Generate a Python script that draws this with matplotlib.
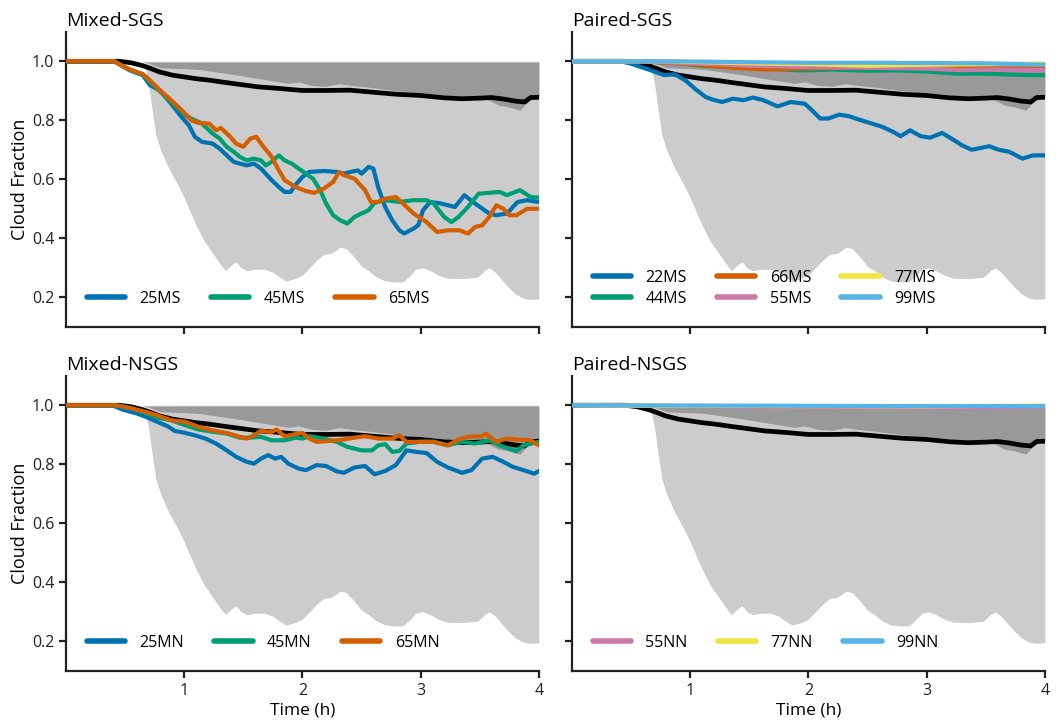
import matplotlib
matplotlib.use("Agg")
import matplotlib.pyplot as plt

plt.rcParams['font.family'] = ['Open Sans', 'DejaVu Sans']

# ensemble envelope (light gray lower bound, upper is 1.0)
t_env = [0, 0.66, 0.70, 0.73, 0.76, 0.80, 0.86, 0.92, 0.98, 1.04,
         1.10, 1.17, 1.24, 1.30, 1.35, 1.40, 1.44, 1.48, 1.53, 1.60,
         1.68, 1.75, 1.80, 1.86, 1.93, 2.00, 2.06, 2.12, 2.18, 2.25,
         2.32, 2.37, 2.43, 2.50, 2.56, 2.62, 2.70, 2.78, 2.85, 2.90,
         2.96, 3.02, 3.08, 3.15, 3.22, 3.35, 3.48, 3.54, 3.58, 3.63,
         3.68, 3.74, 3.80, 3.86, 3.92, 4.0]
env_lo = [1.0, 1.0, 0.92, 0.83, 0.75, 0.70, 0.645, 0.60, 0.555, 0.50,
          0.445, 0.39, 0.35, 0.315, 0.29, 0.31, 0.32, 0.30, 0.29, 0.295,
          0.295, 0.285, 0.27, 0.255, 0.262, 0.275, 0.30, 0.325, 0.345, 0.35,
          0.37, 0.365, 0.34, 0.305, 0.29, 0.27, 0.255, 0.252, 0.252, 0.27,
          0.295, 0.30, 0.29, 0.275, 0.265, 0.263, 0.268, 0.29, 0.30, 0.285,
          0.262, 0.235, 0.212, 0.198, 0.193, 0.195]

# inner (dark gray) band
t_dark = [0.66, 0.72, 0.80, 0.90, 1.00, 1.13, 1.30, 1.47, 1.65, 1.88,
          1.97, 2.08, 2.20, 2.31, 2.42, 2.54, 2.70, 2.87, 3.10, 3.32,
          3.55, 3.66, 3.75, 3.84, 3.91, 4.0]
dark_lo = [1.0, 0.99, 0.978, 0.976, 0.975, 0.972, 0.962, 0.952, 0.94, 0.925,
           0.93, 0.918, 0.915, 0.924, 0.918, 0.913, 0.905, 0.896, 0.89, 0.879,
           0.873, 0.851, 0.845, 0.834, 0.866, 0.879]

# ensemble mean (black)
t_mean = [0, 0.45, 0.55, 0.65, 0.72, 0.79, 0.90, 1.0, 1.1, 1.21,
          1.35, 1.5, 1.63, 1.8, 1.91, 2.0, 2.2, 2.4, 2.6, 2.8,
          3.0, 3.2, 3.35, 3.5, 3.6, 3.7, 3.8, 3.88, 3.93, 4.0]
cf_mean = [1.0, 1.0, 0.995, 0.985, 0.975, 0.964, 0.953, 0.947, 0.941, 0.936,
           0.928, 0.92, 0.913, 0.908, 0.904, 0.901, 0.901, 0.902, 0.895, 0.888,
           0.884, 0.876, 0.873, 0.875, 0.877, 0.872, 0.865, 0.862, 0.877, 0.878]

# Mixed-SGS
t_25ms = [0, 0.41, 0.45, 0.54, 0.65, 0.71, 0.80, 0.89, 0.98, 1.04, 1.09, 1.15, 1.24, 1.30,
          1.36, 1.42, 1.47, 1.53, 1.59, 1.65, 1.74, 1.80, 1.85, 1.90, 1.94, 2.0, 2.06,
          2.18, 2.29, 2.35, 2.41, 2.47, 2.50, 2.56, 2.60, 2.64, 2.70, 2.76, 2.82, 2.86,
          2.94, 2.98, 3.02, 3.08, 3.17, 3.29, 3.37, 3.46, 3.58, 3.64, 3.73, 3.82, 3.90, 4.0]
cf_25ms = [1.0, 1.0, 0.99, 0.969, 0.953, 0.919, 0.90, 0.856, 0.81, 0.783, 0.744, 0.727, 0.721, 0.704,
           0.681, 0.659, 0.653, 0.647, 0.653, 0.636, 0.597, 0.574, 0.557, 0.557, 0.58, 0.608, 0.625,
           0.628, 0.625, 0.619, 0.625, 0.63, 0.619, 0.642, 0.636, 0.574, 0.506, 0.461, 0.427, 0.416,
           0.433, 0.444, 0.495, 0.523, 0.518, 0.506, 0.546, 0.518, 0.484, 0.478, 0.484, 0.523, 0.529, 0.523]
t_45ms = [0, 0.41, 0.45, 0.54, 0.65, 0.71, 0.80, 0.89, 1.01, 1.06, 1.15, 1.24, 1.30, 1.36, 1.42,
          1.47, 1.53, 1.59, 1.65, 1.69, 1.74, 1.80, 1.85, 1.91, 1.97, 2.03, 2.09, 2.15, 2.20,
          2.26, 2.32, 2.38, 2.44, 2.50, 2.56, 2.61, 2.70, 2.82, 2.94, 3.05, 3.11, 3.20, 3.26,
          3.32, 3.40, 3.49, 3.58, 3.67, 3.73, 3.84, 3.93, 4.0]
cf_45ms = [1.0, 1.0, 0.99, 0.972, 0.955, 0.93, 0.896, 0.862, 0.817, 0.806, 0.789, 0.755, 0.738, 0.71, 0.693,
           0.676, 0.664, 0.67, 0.664, 0.647, 0.659, 0.681, 0.664, 0.653, 0.636, 0.619, 0.602, 0.563, 0.518,
           0.478, 0.461, 0.45, 0.472, 0.484, 0.495, 0.52, 0.529, 0.523, 0.529, 0.529, 0.518, 0.472, 0.455,
           0.472, 0.506, 0.551, 0.554, 0.557, 0.546, 0.563, 0.54, 0.538]
t_65ms = [0, 0.41, 0.45, 0.54, 0.65, 0.71, 0.80, 0.89, 0.98, 1.06, 1.12, 1.21, 1.27, 1.31, 1.39,
          1.44, 1.50, 1.56, 1.61, 1.65, 1.74, 1.80, 1.85, 1.94, 2.03, 2.10, 2.18, 2.26, 2.31,
          2.35, 2.44, 2.53, 2.58, 2.64, 2.70, 2.79, 2.85, 2.94, 3.05, 3.14, 3.23, 3.33, 3.40,
          3.46, 3.52, 3.58, 3.64, 3.70, 3.75, 3.81, 3.90, 4.0]
cf_65ms = [1.0, 1.0, 0.99, 0.972, 0.957, 0.935, 0.90, 0.868, 0.834, 0.80, 0.791, 0.789, 0.766, 0.774, 0.744,
           0.721, 0.71, 0.738, 0.744, 0.721, 0.676, 0.631, 0.597, 0.574, 0.56, 0.554, 0.568, 0.591, 0.625,
           0.614, 0.602, 0.563, 0.523, 0.523, 0.534, 0.54, 0.518, 0.484, 0.455, 0.421, 0.427, 0.427, 0.416,
           0.438, 0.444, 0.472, 0.512, 0.50, 0.478, 0.478, 0.50, 0.50]

# Paired-SGS
t_22ms = [0, 0.41, 0.50, 0.58, 0.67, 0.78, 0.87, 0.96, 1.04, 1.13, 1.19, 1.27, 1.36, 1.45, 1.53,
          1.62, 1.74, 1.85, 1.97, 2.03, 2.10, 2.17, 2.26, 2.34, 2.43, 2.52, 2.63, 2.72, 2.78,
          2.86, 2.95, 3.03, 3.13, 3.21, 3.30, 3.38, 3.53, 3.61, 3.70, 3.81, 3.90, 4.0]
cf_22ms = [1.0, 1.0, 0.992, 0.981, 0.969, 0.953, 0.956, 0.935, 0.907, 0.879, 0.87, 0.862, 0.873, 0.868, 0.877,
           0.868, 0.847, 0.862, 0.856, 0.834, 0.806, 0.806, 0.819, 0.814, 0.802, 0.791, 0.777, 0.76, 0.746,
           0.766, 0.746, 0.741, 0.757, 0.738, 0.715, 0.70, 0.712, 0.70, 0.693, 0.67, 0.681, 0.681]
t_44ms = [0, 0.6, 0.9, 1.1, 1.36, 1.65, 1.94, 2.2, 2.5, 2.76, 3.0, 3.27, 3.5, 3.7, 3.89, 4.0]
cf_44ms = [1.0, 1.0, 0.993, 0.985, 0.98, 0.975, 0.969, 0.972, 0.968, 0.969, 0.965, 0.958, 0.958, 0.955, 0.953, 0.953]
t_66ms = [0, 0.6, 1.0, 1.36, 1.65, 1.94, 2.3, 2.7, 3.0, 3.4, 3.8, 4.0]
cf_66ms = [1.0, 1.0, 0.99, 0.978, 0.972, 0.975, 0.978, 0.98, 0.978, 0.976, 0.975, 0.975]
t_55ms = [0, 0.6, 1.0, 1.5, 2.0, 2.5, 3.0, 3.3, 3.6, 3.9, 4.0]
cf_55ms = [1.0, 1.0, 0.993, 0.985, 0.98, 0.978, 0.975, 0.97, 0.972, 0.97, 0.97]
t_77ms = [0, 0.8, 1.5, 2.0, 2.5, 3.0, 3.5, 4.0]
cf_77ms = [1.0, 1.0, 0.993, 0.99, 0.985, 0.988, 0.99, 0.992]
t_99ms = [0, 0.8, 1.5, 2.0, 2.5, 3.0, 3.5, 3.8, 4.0]
cf_99ms = [1.0, 1.0, 0.997, 0.995, 0.995, 0.994, 0.993, 0.99, 0.988]

# Mixed-NSGS
t_25mn = [0, 0.39, 0.48, 0.60, 0.68, 0.77, 0.86, 0.92, 1.01, 1.09, 1.18, 1.27, 1.36, 1.44, 1.53,
          1.59, 1.65, 1.71, 1.77, 1.82, 1.88, 1.97, 2.03, 2.12, 2.20, 2.29, 2.35, 2.44, 2.53,
          2.61, 2.70, 2.79, 2.88, 2.96, 3.05, 3.14, 3.23, 3.35, 3.43, 3.52, 3.61, 3.70, 3.78,
          3.87, 3.96, 4.0]
cf_25mn = [1.0, 1.0, 0.985, 0.972, 0.96, 0.944, 0.929, 0.913, 0.906, 0.898, 0.887, 0.87, 0.847, 0.825, 0.808,
           0.802, 0.819, 0.831, 0.819, 0.825, 0.802, 0.785, 0.78, 0.797, 0.794, 0.776, 0.771, 0.789, 0.794,
           0.766, 0.777, 0.797, 0.847, 0.842, 0.838, 0.808, 0.789, 0.771, 0.78, 0.819, 0.825, 0.808, 0.791,
           0.78, 0.768, 0.777]
t_45mn = [0, 0.42, 0.55, 0.68, 0.77, 0.89, 1.01, 1.12, 1.24, 1.36, 1.47, 1.56, 1.65, 1.74, 1.85,
          1.94, 2.0, 2.06, 2.18, 2.29, 2.38, 2.50, 2.59, 2.64, 2.70, 2.76, 2.82, 2.88, 2.99,
          3.11, 3.23, 3.35, 3.46, 3.58, 3.70, 3.81, 3.87, 4.0]
cf_45mn = [1.0, 1.0, 0.99, 0.972, 0.958, 0.949, 0.932, 0.918, 0.91, 0.904, 0.89, 0.89, 0.893, 0.881, 0.881,
           0.89, 0.887, 0.895, 0.887, 0.876, 0.859, 0.847, 0.847, 0.864, 0.868, 0.842, 0.845, 0.87, 0.876,
           0.876, 0.864, 0.876, 0.87, 0.881, 0.859, 0.844, 0.864, 0.876]
t_65mn = [0, 0.42, 0.55, 0.68, 0.77, 0.89, 1.01, 1.12, 1.24, 1.36, 1.47, 1.53, 1.59, 1.65, 1.74,
          1.78, 1.85, 1.94, 2.0, 2.06, 2.12, 2.23, 2.35, 2.44, 2.53, 2.64, 2.76, 2.82, 2.88,
          2.99, 3.11, 3.23, 3.32, 3.40, 3.52, 3.55, 3.64, 3.73, 3.81, 3.93, 4.0]
cf_65mn = [1.0, 1.0, 0.99, 0.977, 0.966, 0.949, 0.944, 0.927, 0.915, 0.906, 0.893, 0.887, 0.898, 0.913, 0.909,
           0.918, 0.895, 0.902, 0.906, 0.887, 0.876, 0.879, 0.884, 0.89, 0.895, 0.887, 0.887, 0.898, 0.876,
           0.876, 0.876, 0.864, 0.884, 0.893, 0.895, 0.904, 0.876, 0.887, 0.884, 0.881, 0.864]

# Paired-NSGS
t_nn = [0, 1.0, 2.0, 3.0, 3.3, 3.6, 4.0]
cf_55nn = [1.0, 0.997, 0.995, 0.993, 0.99, 0.993, 0.995]
cf_77nn = [1.0, 0.998, 0.997, 0.996, 0.997, 0.998, 0.999]
cf_99nn = [1.0, 0.999, 0.998, 0.997, 0.997, 0.997, 0.997]

BLUE, GREEN, ORANGE = '#0072B2', '#009E73', '#D55E00'
PINK, YELLOW, SKY = '#CC79A7', '#F0E442', '#56B4E9'

panels = [
    ('Mixed-SGS', [(t_25ms, cf_25ms, BLUE, '25MS'), (t_45ms, cf_45ms, GREEN, '45MS'),
                   (t_65ms, cf_65ms, ORANGE, '65MS')]),
    ('Paired-SGS', [(t_22ms, cf_22ms, BLUE, '22MS'), (t_44ms, cf_44ms, GREEN, '44MS'),
                    (t_66ms, cf_66ms, ORANGE, '66MS'), (t_55ms, cf_55ms, PINK, '55MS'),
                    (t_77ms, cf_77ms, YELLOW, '77MS'), (t_99ms, cf_99ms, SKY, '99MS')]),
    ('Mixed-NSGS', [(t_25mn, cf_25mn, BLUE, '25MN'), (t_45mn, cf_45mn, GREEN, '45MN'),
                    (t_65mn, cf_65mn, ORANGE, '65MN')]),
    ('Paired-NSGS', [(t_nn, cf_55nn, PINK, '55NN'), (t_nn, cf_77nn, YELLOW, '77NN'),
                     (t_nn, cf_99nn, SKY, '99NN')]),
]

fig, axes = plt.subplots(2, 2, figsize=(10.64, 7.22), dpi=100, sharex=True, sharey=True)
fig.subplots_adjust(left=0.062, right=0.982, top=0.956, bottom=0.071, wspace=0.07, hspace=0.166)

for ax, (title, series) in zip(axes.flat, panels):
    ax.fill_between(t_env, env_lo, 1.0, color='#cccccc', lw=0, zorder=1)
    ax.fill_between(t_dark, dark_lo, 0.997, color='#999999', lw=0, zorder=2)
    ax.plot(t_mean, cf_mean, color='black', lw=3.4, zorder=3)
    for t, cf, c, lab in series:
        ax.plot(t, cf, color=c, lw=3.0, label=lab, zorder=4, solid_capstyle='round')
    ax.set_title(title, loc='left', fontsize=14, pad=4)
    leg = ax.legend(loc='lower left', ncol=3, frameon=False, fontsize=11.5,
                    handlelength=2.4, columnspacing=1.9, handletextpad=0.9,
                    borderaxespad=0.3, labelspacing=0.3, bbox_to_anchor=(0.02, 0.03))
    for h in leg.get_lines():
        h.set_linewidth(4)
    for s in ['top', 'right']:
        ax.spines[s].set_visible(False)
    for s in ['left', 'bottom']:
        ax.spines[s].set_linewidth(1.6)
        ax.spines[s].set_color('#222222')
    ax.tick_params(width=1.6, length=5, labelsize=11.5, colors='#222222')

ax0 = axes[0, 0]
ax0.set_xlim(0, 4)
ax0.set_ylim(0.1, 1.1)
ax0.set_xticks([1, 2, 3, 4])
ax0.set_yticks([0.2, 0.4, 0.6, 0.8, 1.0])
ax0.set_yticklabels(['0.2', '0.4', '0.6', '0.8', '1.0'])

for ax in axes[:, 0]:
    ax.set_ylabel('Cloud Fraction', fontsize=13, labelpad=2)
for ax in axes[1, :]:
    ax.set_xlabel('Time (h)', fontsize=12.5, labelpad=3)

fig.savefig('out.png', dpi=100)
